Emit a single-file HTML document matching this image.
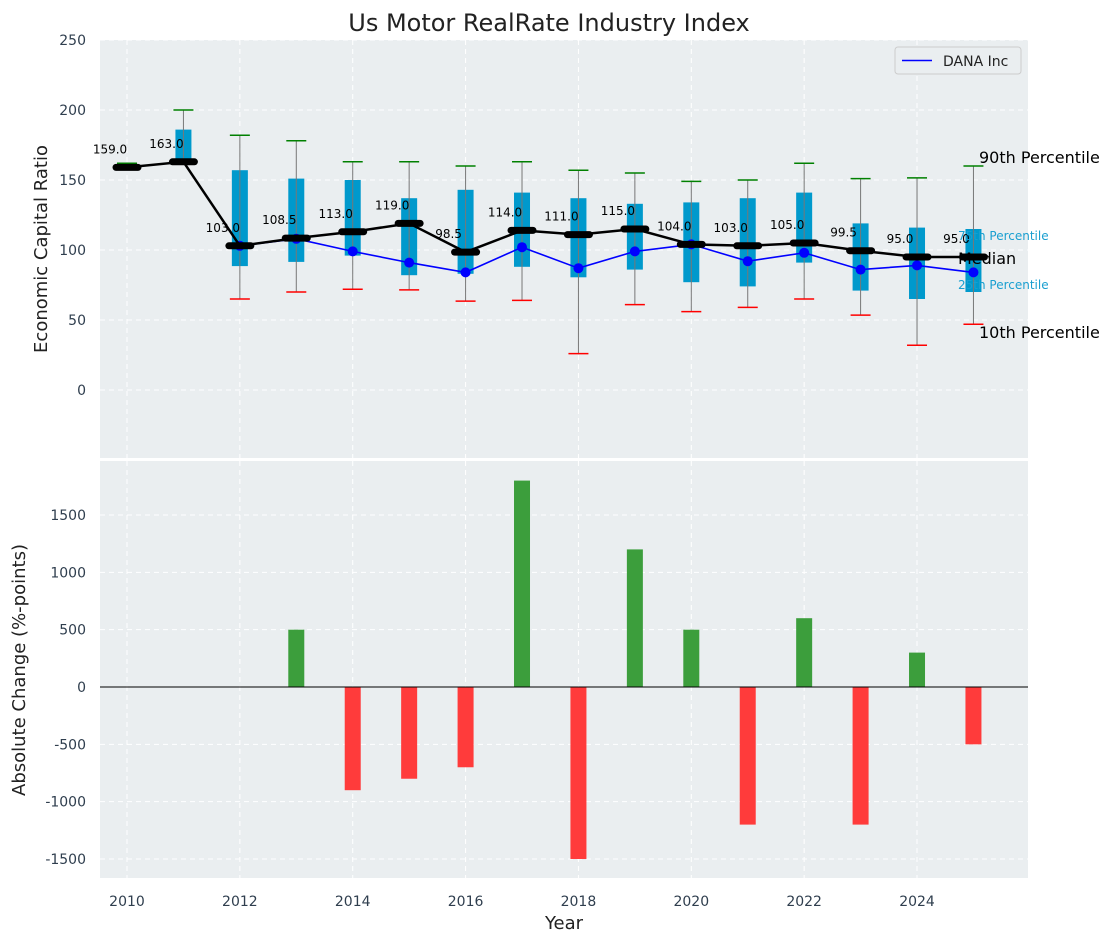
<!DOCTYPE html>
<html><head><meta charset="utf-8"><style>
body{margin:0;background:#fff;}
svg{display:block;font-family:"DejaVu Sans","Liberation Sans",sans-serif;}
</style></head><body>
<svg id="chart" width="1114" height="942"></svg>
<script>
const years=[2010,2011,2012,2013,2014,2015,2016,2017,2018,2019,2020,2021,2022,2023,2024,2025];
const p10=[159,163,65,70,72,71.5,63.5,64,26,61,56,59,65,53.5,32,47];
const p25=[159,163,88.5,91.5,96,82,83,88,80.5,86,77,74,91,71,65,70];
const p75=[159,186,157,151,150,137,143,141,137,133,134,137,141,119,116,115];
const p90=[162,200,182,178,163,163,160,163,157,155,149,150,162,151,151.5,160];
const medians=[159,163,103,108.5,113,119,98.5,114,111,115,104,103,105,99.5,95,95];
const danaYears=[2012,2013,2014,2015,2016,2017,2018,2019,2020,2021,2022,2023,2024,2025];
const danaVals=[103,108,99,91,84,102,87,99,104,92,98,86,89,84];
const changeYears=[2013,2014,2015,2016,2017,2018,2019,2020,2021,2022,2023,2024,2025];
const changeVals=[500,-900,-800,-700,1800,-1500,1200,500,-1200,600,-1200,300,-500];
const topTicks=[0,50,100,150,200,250];
const botTicks=[-1500,-1000,-500,0,500,1000,1500];
const xTicks=[2010,2012,2014,2016,2018,2020,2022,2024];

const svg=document.getElementById('chart');
const NS='http://www.w3.org/2000/svg';
function mk(tag,attrs,parent){const e=document.createElementNS(NS,tag);for(const k in attrs)e.setAttribute(k,attrs[k]);(parent||svg).appendChild(e);return e;}
const L=100,R=1028;
const x=v=>127+(v-2010)*56.43;
const yT=v=>390-(v)*1.4;
const yB=v=>687-v*0.11467;
const T0=40,T1=458,B0=461,B1=878;

// backgrounds
let e=mk('rect',{x:L,y:T0,width:R-L,height:T1-T0,fill:'#eaeef0'});


e=mk('rect',{x:L,y:B0,width:R-L,height:B1-B0,fill:'#eaeef0'});



// grids
const grid=mk('g',{stroke:'#ffffff','stroke-dasharray':'5,4','stroke-width':1});


topTicks.forEach(t=>mk('line',{x1:L,x2:R,y1:yT(t),y2:yT(t)},grid));
botTicks.forEach(t=>mk('line',{x1:L,x2:R,y1:yB(t),y2:yB(t)},grid));
xTicks.forEach(t=>{mk('line',{x1:x(t),x2:x(t),y1:T0,y2:T1},grid);mk('line',{x1:x(t),x2:x(t),y1:B0,y2:B1},grid);});

// tick labels
topTicks.forEach(t=>{const tx=mk('text',{x:86,y:yT(t)+5,'text-anchor':'end','font-size':14,fill:'#2f3e4e'});tx.textContent=t;
});
botTicks.forEach(t=>{const tx=mk('text',{x:86,y:yB(t)+5,'text-anchor':'end','font-size':14,fill:'#2f3e4e'});tx.textContent=t;
});
xTicks.forEach(t=>{const tx=mk('text',{x:x(t),y:906,'text-anchor':'middle','font-size':14,fill:'#2f3e4e'});tx.textContent=t;
});

// boxes
years.forEach((yr,i)=>{
  const g=mk('g',{});
  
  
  const cx=x(yr);
  if(p75[i]>p25[i]) mk('rect',{x:cx-8,y:yT(p75[i]),width:16,height:yT(p25[i])-yT(p75[i]),fill:'#0099cc'},g);
  mk('line',{x1:cx,x2:cx,y1:yT(p90[i]),y2:yT(p10[i]),stroke:'#777','stroke-width':1},g);
  mk('line',{x1:cx-10,x2:cx+10,y1:yT(p90[i]),y2:yT(p90[i]),stroke:'green','stroke-width':1.5},g);
  mk('line',{x1:cx-10,x2:cx+10,y1:yT(p10[i]),y2:yT(p10[i]),stroke:'red','stroke-width':1.5},g);
});
// dana line
let pts=danaYears.map((yr,i)=>x(yr)+','+yT(danaVals[i])).join(' ');
e=mk('polyline',{points:pts,fill:'none',stroke:'#0000ff','stroke-width':1.6});


danaYears.forEach((yr,i)=>{const c=mk('circle',{cx:x(yr),cy:yT(danaVals[i]),r:5,fill:'#0000ff'});
});
// median line
pts=years.map((yr,i)=>x(yr)+','+yT(medians[i])).join(' ');
e=mk('polyline',{points:pts,fill:'none',stroke:'#000','stroke-width':2.5});


years.forEach((yr,i)=>{
  const m=mk('line',{x1:x(yr)-11,x2:x(yr)+11,y1:yT(medians[i]),y2:yT(medians[i]),stroke:'#000','stroke-width':7,'stroke-linecap':'round'});
  
  const t=mk('text',{x:x(yr)-17,y:yT(medians[i])-14,'text-anchor':'middle','font-size':12,fill:'#000'});
  t.textContent=medians[i].toFixed(1);
  
});
// right annotations
const last=years.length-1;
function ann(txt,xx,yy,size,col,name){const t=mk('text',{x:xx,y:yy,'font-size':size,fill:col});t.textContent=txt;
}
ann('90th Percentile',979,yT(p90[last])-3,16,'#000','p90-annotation');
ann('75th Percentile',958,yT(p75[last])+11,12,'#1a9fd0','p75-annotation');
ann('Median',958,yT(medians[last])+7,16,'#000','median-annotation');
ann('25th Percentile',958,yT(p25[last])-3,12,'#1a9fd0','p25-annotation');
ann('10th Percentile',979,yT(p10[last])+14,16,'#000','p10-annotation');

// legend
const lg=mk('g',{});


mk('rect',{x:895,y:47,width:126,height:27,rx:3,fill:'#eaeef0',stroke:'#ccc'},lg);
mk('line',{x1:902,x2:932,y1:60.5,y2:60.5,stroke:'#0000ff','stroke-width':1.6},lg);
let lt=mk('text',{x:943,y:66,'font-size':14,fill:'#222'},lg);lt.textContent='DANA Inc';

// bars
changeYears.forEach((yr,i)=>{
  const v=changeVals[i];
  const r=mk('rect',{x:x(yr)-8,y:Math.min(yB(v),yB(0)),width:16,height:Math.abs(yB(v)-yB(0)),fill:v>=0?'#3c9e3c':'#ff3b3b'});
  
});
e=mk('line',{x1:L,x2:R,y1:yB(0),y2:yB(0),stroke:'#000','stroke-width':1});


// titles
function txt(s,attrs,name){const t=mk('text',attrs);t.textContent=s;}
txt('Us Motor RealRate Industry Index',{x:549,y:31,'text-anchor':'middle','font-size':24,fill:'#222'},'chart-title');
txt('Economic Capital Ratio',{x:47,y:249,'text-anchor':'middle','font-size':18,fill:'#222',transform:'rotate(-90 47 249)'},'top-y-axis-title');
txt('Absolute Change (%-points)',{x:25,y:670,'text-anchor':'middle','font-size':18,fill:'#222',transform:'rotate(-90 25 670)'},'bottom-y-axis-title');
txt('Year',{x:564,y:929,'text-anchor':'middle','font-size':18,fill:'#222'},'x-axis-title');
</script>
</body></html>
